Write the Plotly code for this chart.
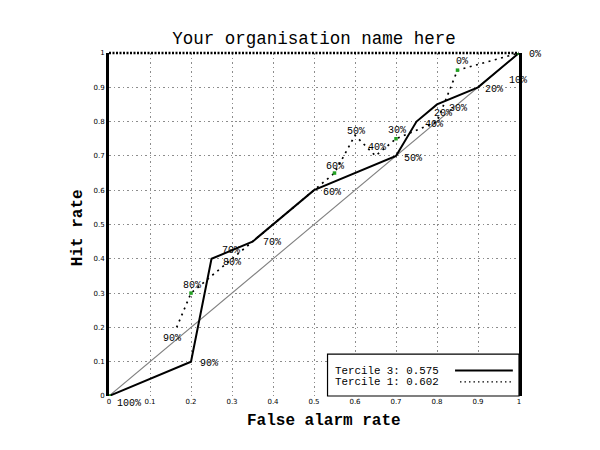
import plotly.graph_objects as go

# ---------------- data ----------------
title_text = "Your organisation name here"
x_title = "False alarm rate"
y_title = "Hit rate"

# Tercile 3 (solid) ROC points, probability thresholds 100% .. 0%
t3_far = [0.0, 0.2, 0.25, 0.35, 0.5, 0.7, 0.75, 0.8, 0.9, 0.95, 1.0]
t3_hit = [0.0, 0.1, 0.4, 0.45, 0.6, 0.7, 0.8, 0.85, 0.9, 0.95, 1.0]
t3_labels = ["100%", "90%", "80%", "70%", "60%", "50%", "40%", "30%", "20%", "10%", "0%"]
t3_name = "Tercile 3:"
t3_area = "0.575"

# Tercile 1 (dotted) ROC points
t1_far = [0.165, 0.2, 0.3, 0.55, 0.6, 0.65, 0.7, 0.8, 0.85, 1.0]
t1_hit = [0.2, 0.3, 0.4, 0.65, 0.76, 0.70, 0.75, 0.8, 0.95, 1.0]
t1_labels = ["90%", "80%", "70%", "60%", "50%", "40%", "30%", "20%", "0%", ""]
t1_name = "Tercile 1:"
t1_area = "0.602"

# points highlighted with green markers (indices into Tercile 1 list)
t1_marked = [1, 3, 6, 8, 9]

no_skill = [0.0, 1.0]
tick_vals = [0, 0.1, 0.2, 0.3, 0.4, 0.5, 0.6, 0.7, 0.8, 0.9, 1.0]

# ---------------- style ----------------
# label pixel offsets (dx, dy) ; dy positive = upwards
t3_off = [(6, -7), (7, -2), (9, -4), (8, -1), (7, -2), (6, -3), (6, -3), (10, -4), (5, -2), (8, -10), (8, -1)]
t1_off = [(-16, -11), (-10, 8), (-12, 8), (-11, 7), (-10, 4), (-10, 8), (-10, 8), (-5, 8), (-4, 9), (0, 0)]

MONO = "Liberation Mono"
label_font = dict(family=MONO, size=10, color="black")

# the page body adds an 8px offset; figure is sized to the remaining window
W, H = 592, 442

fig = go.Figure()

# no-skill diagonal
fig.add_trace(go.Scatter(x=no_skill, y=no_skill, mode="lines",
                         line=dict(color="#808080", width=1.1), hoverinfo="skip",
                         showlegend=False))
# Tercile 1 dotted
fig.add_trace(go.Scatter(x=t1_far, y=t1_hit, mode="lines",
                         line=dict(color="black", width=1.7, dash="2px,4.5px"),
                         showlegend=False))
# Tercile 3 solid
fig.add_trace(go.Scatter(x=t3_far, y=t3_hit, mode="lines",
                         line=dict(color="black", width=2),
                         showlegend=False))
# green markers
gx = [t3_far[0]] + [t1_far[i] for i in t1_marked]
gy = [t3_hit[0]] + [t1_hit[i] for i in t1_marked]
fig.add_trace(go.Scatter(x=gx, y=gy, mode="markers",
                         marker=dict(color="#22a022", size=3.5, symbol="square"),
                         showlegend=False))

annotations = []
for x, y, t, (dx, dy) in zip(t3_far, t3_hit, t3_labels, t3_off):
    if t:
        annotations.append(dict(x=x, y=y, text=t, showarrow=False, xanchor="left",
                                yanchor="middle", xshift=dx, yshift=dy, font=label_font))
for x, y, t, (dx, dy) in zip(t1_far, t1_hit, t1_labels, t1_off):
    if t:
        annotations.append(dict(x=x, y=y, text=t, showarrow=False, xanchor="left",
                                yanchor="middle", xshift=dx, yshift=dy, font=label_font))

# axis titles
annotations.append(dict(xref="paper", yref="paper", x=0.525, y=-0.073, text=x_title,
                        showarrow=False, xanchor="center", yanchor="middle",
                        font=dict(family=MONO, size=16, color="black", weight="bold")))
annotations.append(dict(xref="paper", yref="paper", x=-0.075, y=0.49, text=y_title,
                        showarrow=False, xanchor="center", yanchor="middle", textangle=-90,
                        font=dict(family=MONO, size=16, color="black", weight="bold")))

# legend texts
leg_font = dict(family=MONO, size=10.8, color="black")
annotations.append(dict(xref="paper", yref="paper", x=0.546, y=0.074,
                        text=f"{t3_name} {t3_area}", showarrow=False,
                        xanchor="left", yanchor="middle", font=leg_font))
annotations.append(dict(xref="paper", yref="paper", x=0.546, y=0.041,
                        text=f"{t1_name} {t1_area}", showarrow=False,
                        xanchor="left", yanchor="middle", font=leg_font))

shapes = [
    # legend box
    dict(type="rect", xref="paper", yref="paper", x0=0.533, x1=1.0, y0=0.0, y1=0.122,
         line=dict(color="black", width=1.2), fillcolor="white", layer="above"),
    dict(type="line", xref="paper", yref="paper", x0=0.844, x1=0.985, y0=0.074, y1=0.074,
         line=dict(color="black", width=2), layer="above"),
    dict(type="line", xref="paper", yref="paper", x0=0.856, x1=0.985, y0=0.041, y1=0.041,
         line=dict(color="black", width=1.2, dash="1.5px,3px"), layer="above"),
    # top border (dotted, thick)
    dict(type="line", xref="paper", yref="paper", x0=0, x1=1, y0=1, y1=1,
         line=dict(color="black", width=2.5, dash="2px,1.5px"), layer="above"),
]

fig.update_layout(
    width=W, height=H,
    margin=dict(l=101, r=81, t=45, b=54),
    paper_bgcolor="white", plot_bgcolor="white",
    title=dict(text=title_text, x=101 / W + 0.5 * 410 / W, xanchor="center",
               y=1 - 29.5 / H, yanchor="middle",
               font=dict(family=MONO, size=17.5, color="black")),
    annotations=annotations,
    shapes=shapes,
    showlegend=False,
)
fig.update_xaxes(range=[0, 1], tickvals=tick_vals, showgrid=True, gridcolor="#8c8c8c",
                 griddash="1.5px,3px", gridwidth=1, zeroline=False, showline=False,
                 ticks="", tickfont=dict(family="DejaVu Sans", size=7, color="black"))
fig.update_yaxes(range=[0, 1], tickvals=tick_vals, showgrid=True, gridcolor="#8c8c8c",
                 griddash="1.5px,3px", gridwidth=1, zeroline=False, showline=True,
                 linecolor="black", linewidth=3, mirror=True,
                 ticks="", tickfont=dict(family="DejaVu Sans", size=7, color="black"))

fig.write_html("out.html")
